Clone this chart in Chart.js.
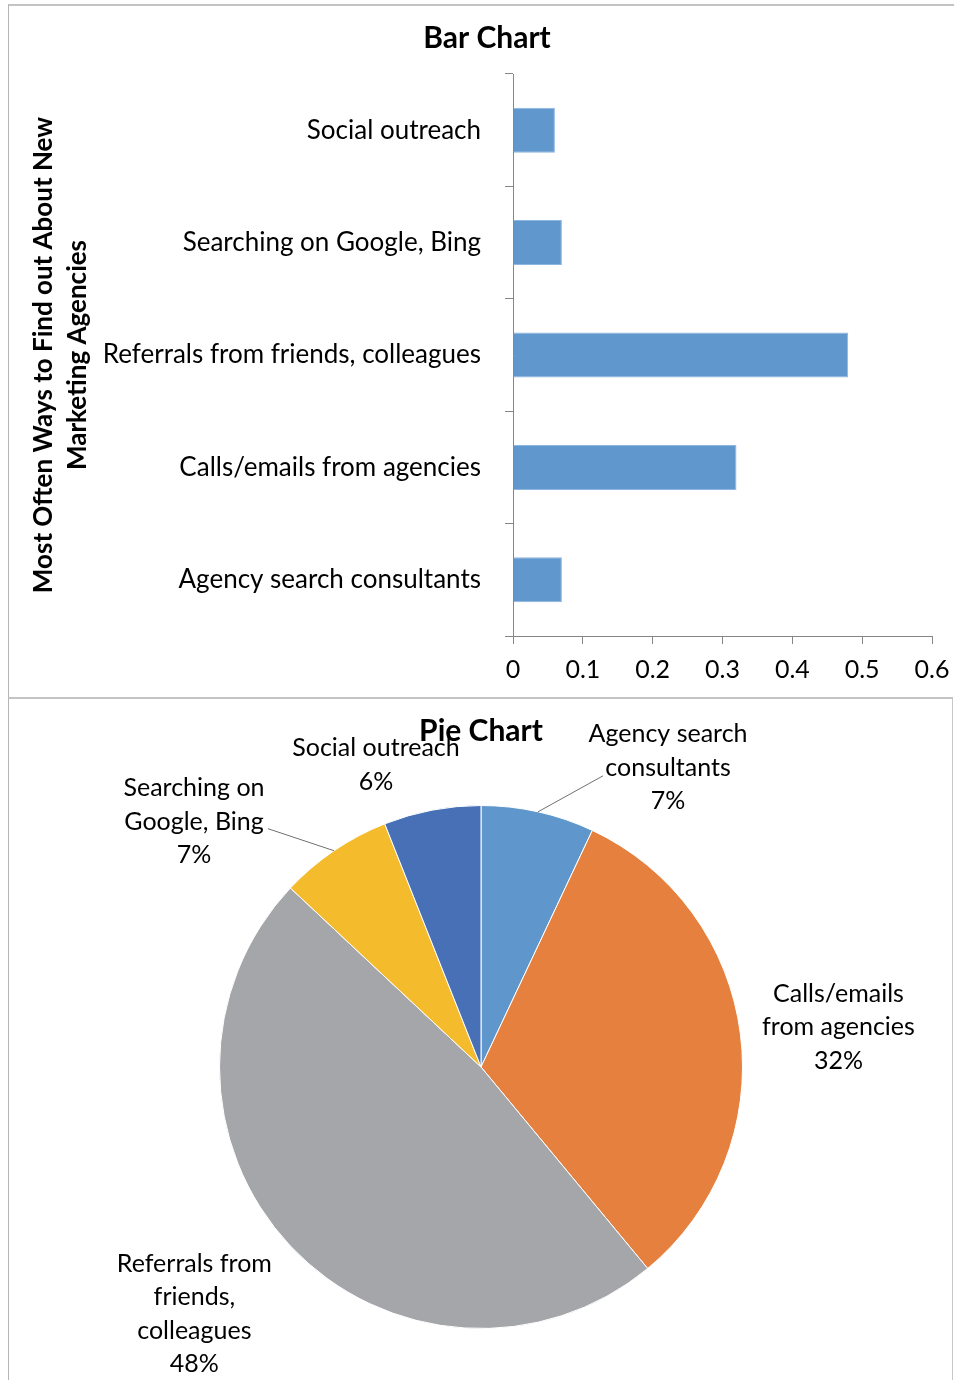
<!DOCTYPE html>
<html>
<head>
<meta charset="utf-8">
<script src="https://cdn.jsdelivr.net/npm/chart.js@4"></script>
<style>
  body { margin: 0; background: #fff; width: 954px; height: 1380px; overflow: hidden; position: relative; }
  #barBox { position: absolute; left: 8px; top: 4px; width: 960px; height: 691px; border-top: 2px solid #c3c3c3; border-left: 1px solid #b5b5b5; }
  #pieBox { position: absolute; left: 8px; top: 697px; width: 943px; height: 700px; border-top: 2px solid #c3c3c3; border-left: 1px solid #b5b5b5; border-right: 1px solid #c8c8c8; }
  canvas { position: absolute; left: 0; top: 0; }
</style>
</head>
<body>
<div id="barBox"><canvas id="barChart" width="956" height="691"></canvas></div>
<div id="pieBox"><canvas id="pieChart" width="943" height="681"></canvas></div>
<script>
// data (in sheet order; bar chart shows it bottom-up)
const categories = ['Agency search consultants', 'Calls/emails from agencies', 'Referrals from friends, colleagues', 'Searching on Google, Bing', 'Social outreach'];
const shares = [0.07, 0.32, 0.48, 0.07, 0.06];
const xTicks = [0, 0.1, 0.2, 0.3, 0.4, 0.5, 0.6];
const pieLabelLines = [['Agency search', 'consultants'], ['Calls/emails', 'from agencies'], ['Referrals from', 'friends,', 'colleagues'], ['Searching on', 'Google, Bing'], ['Social outreach']];
const pieColors = ['#5f97cd', '#e5803f', '#a5a6a9', '#f4bb2c', '#4870b7'];

const FONT = 'Lato, "Open Sans", sans-serif';
const axisGray = '#868686';

// bar chart
new Chart(document.getElementById('barChart'), {
  type: 'bar',
  data: {
    labels: categories,
    datasets: [{
      data: shares,
      backgroundColor: '#6097cc',
      borderColor: '#8db6e0',
      borderWidth: 1,
      categoryPercentage: 1,
      barPercentage: 0.4
    }]
  },
  options: {
    indexAxis: 'y',
    responsive: false,
    animation: false,
    layout: { padding: 0 },
    plugins: {
      legend: { display: false },
      tooltip: { enabled: false },
      title: {
        display: true,
        text: 'Bar Chart',
        color: '#000',
        font: { family: FONT, size: 30, weight: 'bold', lineHeight: 1.2 },
        padding: { top: 14, bottom: 18 }
      }
    },
    scales: {
      x: {
        min: 0,
        max: 0.6,
        afterBuildTicks: (scale) => { scale.ticks = xTicks.map(v => ({ value: v })); },
        // keep the plot right edge fixed, title stays centred on the whole canvas
        afterFit: (scale) => { scale.height = 61; scale.paddingLeft = 0; scale.paddingRight = 33; },
        grid: { drawOnChartArea: false, color: axisGray, tickLength: 8 },
        border: { color: axisGray },
        ticks: { color: '#000', font: { family: FONT, size: 25 }, padding: 11, maxRotation: 0 }
      },
      y: {
        reverse: true,
        afterFit: (scale) => { scale.width = 504; },
        grid: { drawOnChartArea: false, color: axisGray, tickLength: 8, offset: true },
        border: { color: axisGray },
        ticks: { color: '#000', font: { family: FONT, size: 26 }, padding: 24 },
        title: {
          display: true,
          text: ['Most Often Ways to Find out About New', 'Marketing Agencies'],
          color: '#000',
          font: { family: FONT, size: 26, weight: 'bold', lineHeight: 1.3 },
          padding: { top: 18, bottom: 0 }
        }
      }
    }
  }
});

// pie labels with optional leader lines, placed relative to each slice's outer midpoint
const pieLabelPlugin = {
  id: 'pieLabels',
  afterDatasetsDraw(chart, args, opts) {
    const ctx = chart.ctx;
    const meta = chart.getDatasetMeta(0);
    const values = chart.data.datasets[0].data;
    const total = values.reduce((a, b) => a + b, 0);
    ctx.save();
    meta.data.forEach((arc, i) => {
      const mid = (arc.startAngle + arc.endAngle) / 2;
      const ax = arc.x + Math.cos(mid) * arc.outerRadius;
      const ay = arc.y + Math.sin(mid) * arc.outerRadius;
      const lead = opts.leaders[i];
      if (lead) {
        ctx.strokeStyle = '#707070';
        ctx.lineWidth = 1;
        ctx.beginPath();
        ctx.moveTo(ax, ay);
        ctx.lineTo(ax + lead[0], ay + lead[1]);
        ctx.stroke();
      }
      const lines = pieLabelLines[i].concat(Math.round(values[i] / total * 100) + '%');
      const off = opts.offsets[i];
      const cx = ax + off[0];
      const cy = ay + off[1] - (lines.length - 1) * opts.lineHeight / 2;
      ctx.fillStyle = '#000';
      ctx.font = '25px ' + FONT;
      ctx.textAlign = 'center';
      ctx.textBaseline = 'middle';
      lines.forEach((t, k) => ctx.fillText(t, cx, cy + k * opts.lineHeight));
    });
    ctx.restore();
  }
};

new Chart(document.getElementById('pieChart'), {
  type: 'pie',
  data: {
    labels: categories,
    datasets: [{ data: shares, backgroundColor: pieColors, borderColor: '#fff', borderWidth: 1 }]
  },
  plugins: [pieLabelPlugin],
  options: {
    responsive: false,
    animation: false,
    layout: { padding: { left: 210, right: 209, top: 0, bottom: 51 } },
    plugins: {
      legend: { display: false },
      tooltip: { enabled: false },
      title: {
        display: true,
        text: 'Pie Chart',
        color: '#000',
        font: { family: FONT, size: 30, weight: 'bold', lineHeight: 1.2 },
        padding: { top: 14, bottom: 56 }
      },
      pieLabels: {
        lineHeight: 33.5,
        offsets: [[130, -44], [98, -7], [-96, 68], [-140, -29], [-56, -45]],
        leaders: [[65, -36], null, null, [-66, -22], null]
      }
    }
  }
});
</script>
</body>
</html>
